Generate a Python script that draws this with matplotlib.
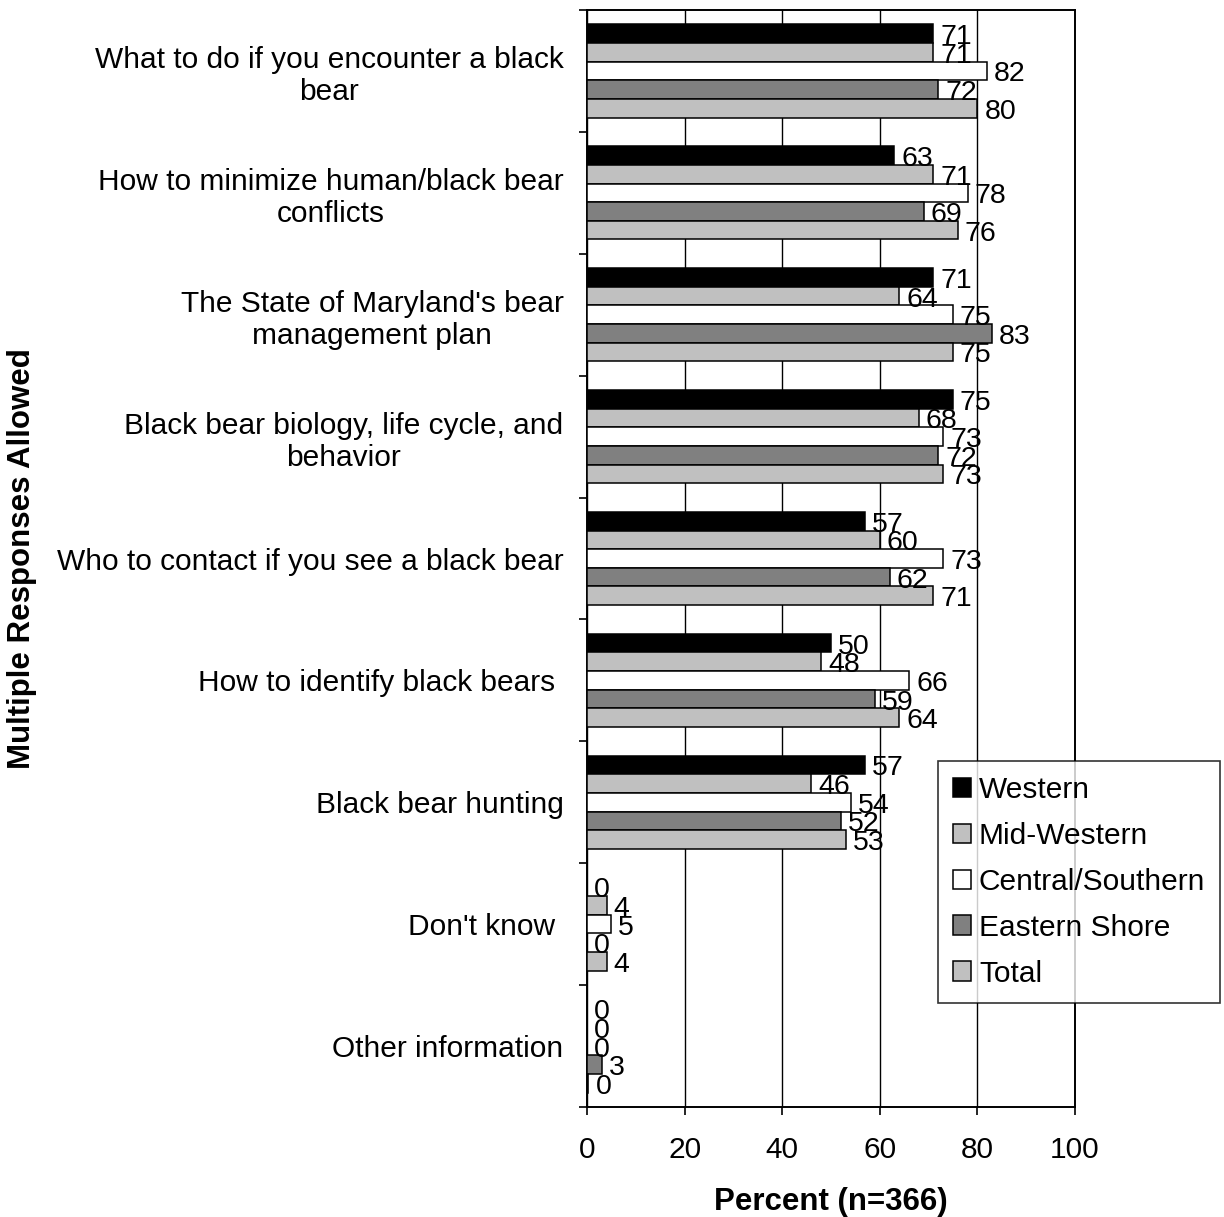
import numpy as np
import matplotlib
matplotlib.use("Agg")
import matplotlib.pyplot as plt
from matplotlib.patches import Patch

plt.rcParams['font.family'] = ['Liberation Sans', 'DejaVu Sans']

# Categories, top to bottom
categories = [
    "What to do if you encounter a black\nbear",
    "How to minimize human/black bear\nconflicts",
    "The State of Maryland's bear\nmanagement plan",
    "Black bear biology, life cycle, and\nbehavior",
    "Who to contact if you see a black bear",
    "How to identify black bears ",
    "Black bear hunting",
    "Don't know ",
    "Other information",
]

series_names = ["Western", "Mid-Western", "Central/Southern", "Eastern Shore", "Total"]

western = [71, 63, 71, 75, 57, 50, 57, 0, 0]
mid_western = [71, 71, 64, 68, 60, 48, 46, 4, 0]
central_southern = [82, 78, 75, 73, 73, 66, 54, 5, 0]
eastern_shore = [72, 69, 83, 72, 62, 59, 52, 0, 3]
total = [80, 76, 75, 73, 71, 64, 53, 4, 0.3]

series_values = [western, mid_western, central_southern, eastern_shore, total]
series_colors = ["#000000", "#C0C0C0", "#FFFFFF", "#808080", "#C0C0C0"]

fig = plt.figure(figsize=(12.24, 12.17), dpi=100)
ax = fig.add_axes([587 / 1224, 1 - 1107 / 1217, (1075 - 587) / 1224, (1107 - 10) / 1217])

y = np.arange(len(categories))
bar_h = 0.153

for j, (name, vals, col) in enumerate(zip(series_names, series_values, series_colors)):
    pos = y + (j - 2) * bar_h
    ax.barh(pos, vals, height=bar_h, color=col, edgecolor="black", linewidth=1.1,
            label=name, zorder=3)
    for p, v in zip(pos, vals):
        ax.annotate(f"{v:.0f}", xy=(v, p), xytext=(5, -2.5), textcoords="offset points",
                    ha="left", va="center", fontsize=20.5, zorder=4)

ax.set_xlim(0, 100)
ax.set_ylim(len(categories) - 0.5, -0.5)

# x axis
ax.set_xticks([0, 20, 40, 60, 80, 100])
ax.tick_params(axis="x", direction="out", length=6, width=1.2, pad=15, labelsize=21.5)
ax.xaxis.grid(True, color="black", linewidth=1.0, zorder=0)

# y axis: labels at centers, tick marks at boundaries
ax.set_yticks(y)
ax.set_yticklabels(categories, multialignment="center", fontsize=21.5)
ax.tick_params(axis="y", which="major", length=0, pad=17)
ax.set_yticks(np.arange(-0.5, len(categories), 1.0), minor=True)
ax.tick_params(axis="y", which="minor", direction="out", length=6, width=1.2)

for s in ax.spines.values():
    s.set_linewidth(1.4)
    s.set_color("black")

fig.text(22 / 1224, 1 - 559 / 1217, "Multiple Responses Allowed", rotation=90,
         ha="center", va="center", fontsize=22.5, fontweight="bold")
fig.text(831 / 1224, 1 - 1210 / 1217, "Percent (n=366)", ha="center", va="baseline",
         fontsize=22.5, fontweight="bold")

handles = [Patch(facecolor=c, edgecolor="black", linewidth=1.1) for c in series_colors]
leg = fig.legend(handles, series_names, loc="upper left",
                 bbox_to_anchor=(938 / 1224, 1 - 761 / 1217),
                 fontsize=21.5, frameon=True, fancybox=False, shadow=False,
                 handlelength=0.62, handleheight=0.62, handletextpad=0.25,
                 labelspacing=0.6, borderpad=0.5, borderaxespad=0)
leg.get_frame().set_edgecolor("black")
leg.get_frame().set_linewidth(1.2)

fig.savefig("out.png", dpi=100)
